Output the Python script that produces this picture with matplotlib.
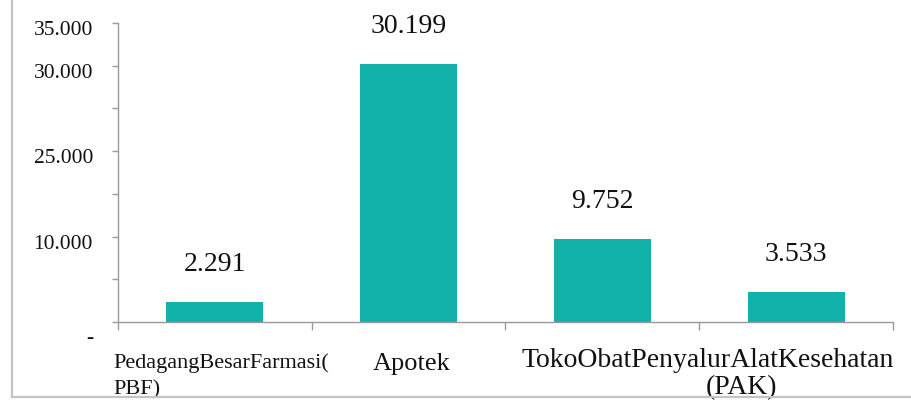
import matplotlib
matplotlib.use("Agg")
import matplotlib.pyplot as plt
from matplotlib.transforms import ScaledTranslation
from matplotlib.lines import Line2D

# ---- data ----
categories = ["PedagangBesarFarmasi(PBF)", "Apotek", "TokoObat", "PenyalurAlatKesehatan(PAK)"]
values = [2291, 30199, 9752, 3533]
value_labels = ["2.291", "30.199", "9.752", "3.533"]
ytick_values = [0, 10000, 20000, 30000, 35000]
ytick_labels = ["-", "10.000", "25.000", "30.000", "35.000"]

FONT = "Liberation Serif"
TEXT = "#111111"
AXC = "#9a9a9a"
BAR = "#12B1A9"

W, H = 912, 402
fig = plt.figure(figsize=(W / 100, H / 100), dpi=100)
ax = fig.add_axes([118 / W, 79 / H, 775 / W, 299 / H])

xs = list(range(len(values)))
ax.bar(xs, values, width=0.5, color=BAR, zorder=2)
ax.set_xlim(-0.5, len(values) - 0.5)
ax.set_ylim(0, 35000)

for s in ["top", "right"]:
    ax.spines[s].set_visible(False)
for s in ["left", "bottom"]:
    ax.spines[s].set_color(AXC)
    ax.spines[s].set_linewidth(1.0)

# y ticks
major = list(range(0, 35001, 5000))
ax.set_yticks(major)
ax.set_yticklabels([ytick_labels[ytick_values.index(t)] if t in ytick_values else "" for t in major],
                   fontfamily=FONT, fontsize=15.5, color=TEXT)
ax.tick_params(axis="y", length=4.5, width=1, color=AXC, pad=13.5)
for t, lab in zip(major, ax.get_yticklabels()):
    dy = -13 if t == 0 else -4
    lab.set_transform(lab.get_transform() + ScaledTranslation(0, dy / 100, fig.dpi_scale_trans))

# x ticks at category boundaries
ax.set_xticks([i - 0.5 for i in range(len(values) + 1)])
ax.set_xticklabels([])
ax.tick_params(axis="x", length=6, width=1, color=AXC, direction="out")

# value labels
for x, v, lab in zip(xs, values, value_labels):
    ax.annotate(lab, xy=(x, v), xytext=(0, 23), textcoords="offset points",
                ha="center", va="baseline", fontfamily=FONT, fontsize=20, color=TEXT)

# category labels (laid out as in the source)
T = ax.get_xaxis_transform()
px_per_unit = 775 / len(values)
def dx(px):
    return -0.5 + (px - 118) / px_per_unit
def lbl(text, px, below_px, ha, size):
    ax.annotate(text, xy=(dx(px), 0), xycoords=T, xytext=(0, -below_px * 0.72),
                textcoords="offset points", ha=ha, va="baseline",
                fontfamily=FONT, fontsize=size, color=TEXT, annotation_clip=False)

c0a, c0b = categories[0].split("(")
c3a, c3b = categories[3].split("(")
lbl(c0a + "(", 113, 45, "left", 16)
lbl(c0b, 113, 71, "left", 16)
lbl(categories[1], 412, 47, "center", 19)
lbl(categories[2] + c3a, 522, 44, "left", 20)
lbl("(" + c3b, 742, 71, "center", 20)

# figure border lines (left and bottom)
fig.add_artist(Line2D([12 / W, 12 / W], [4 / H, 1.0], transform=fig.transFigure,
                      color="#c4c4c4", lw=1.6))
fig.add_artist(Line2D([12 / W, 1.0], [4 / H, 4 / H], transform=fig.transFigure,
                      color="#c4c4c4", lw=1.6))

fig.savefig("out.png", dpi=100)
